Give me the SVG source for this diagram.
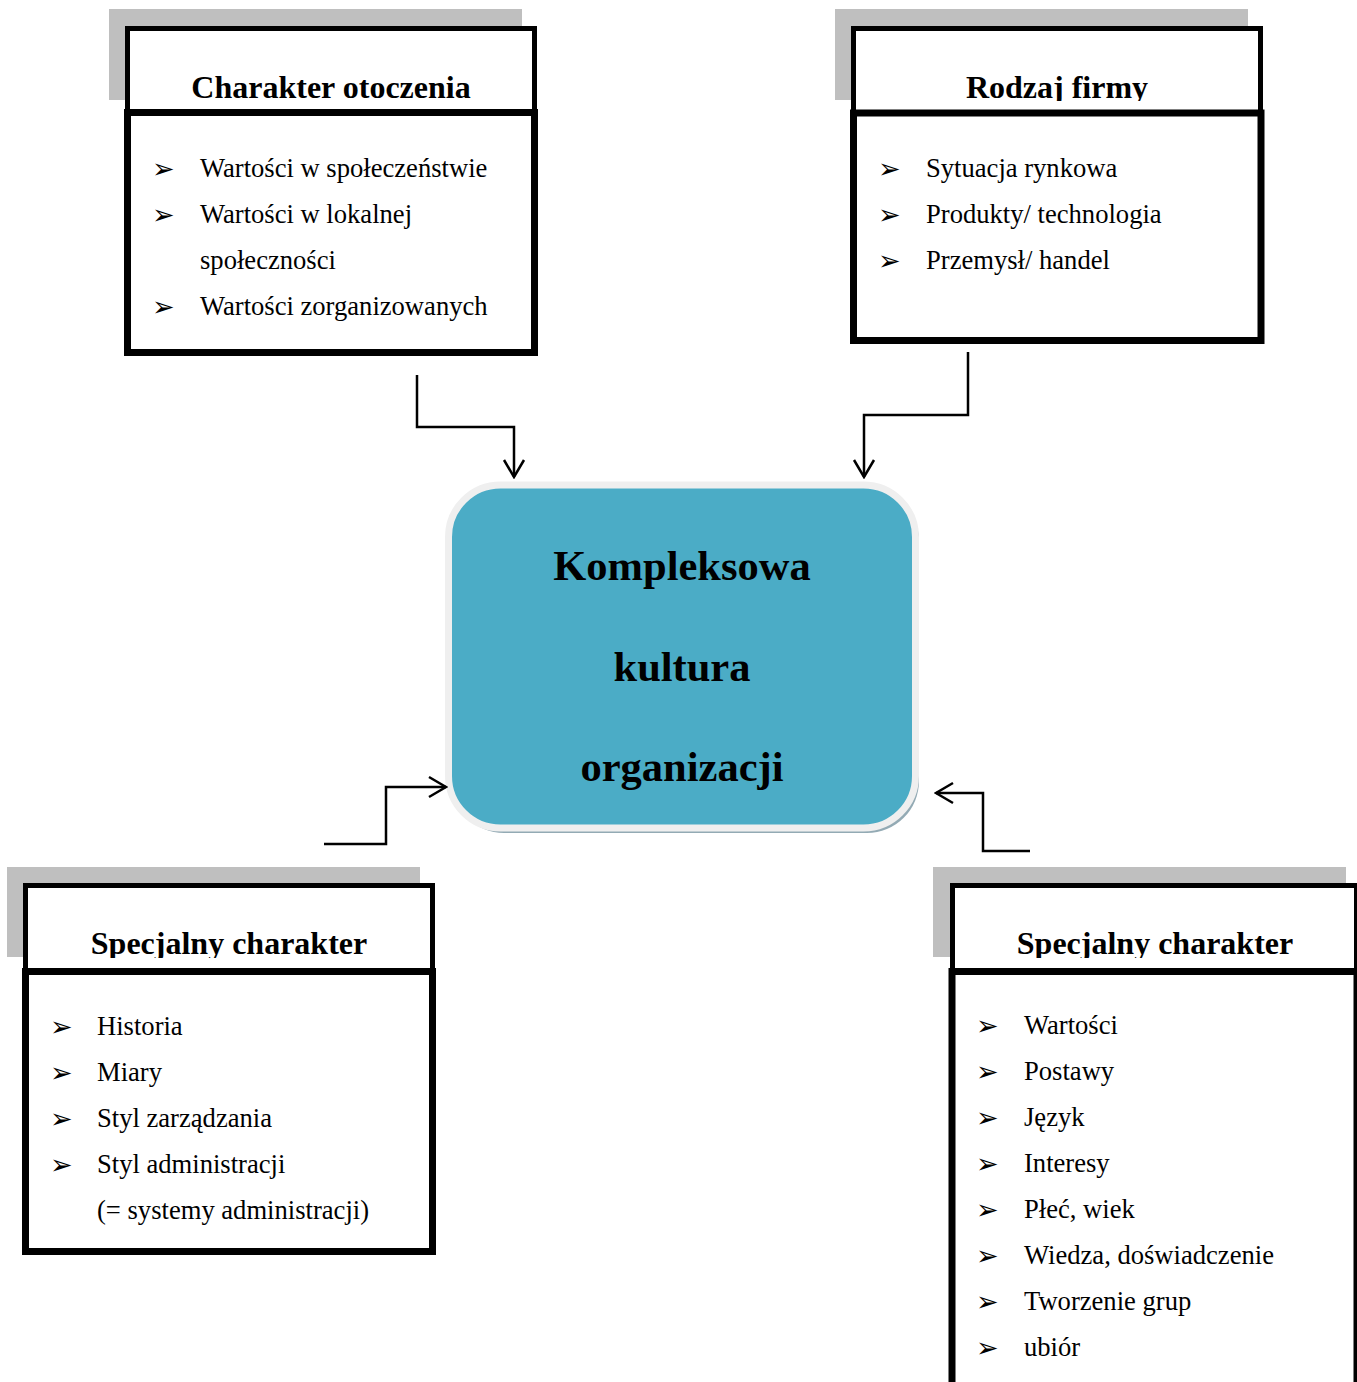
<svg xmlns="http://www.w3.org/2000/svg" width="1357" height="1382" viewBox="0 0 1357 1382">
<style>
.shadow{fill:#BFBFBF}
.hdr{fill:#fff;stroke:#000;stroke-width:5}
.body{fill:#fff;stroke:#000;stroke-width:7}
.title{font-family:"Liberation Serif","Times New Roman",serif;font-weight:bold;font-size:32px;text-anchor:middle;fill:#000}
.item{font-family:"Liberation Serif","Times New Roman",serif;font-size:26.6px;fill:#000}
.bul{font-family:"DejaVu Sans",sans-serif;font-size:27px;fill:#000}
.center{font-family:"Liberation Serif","Times New Roman",serif;font-weight:bold;font-size:42.5px;text-anchor:middle;fill:#000}
.conn{fill:none;stroke:#000;stroke-width:2.5;marker-end:url(#arrow)}
</style>
<defs>
<marker id="arrow" markerUnits="userSpaceOnUse" viewBox="-20 -12 22 24" refX="0" refY="0" markerWidth="22" markerHeight="24" orient="auto">
<path d="M-17,-10 L0,0 L-17,10" fill="none" stroke="#000" stroke-width="2.5"/>
</marker>
<clipPath id="clipTop"><rect x="0" y="30" width="1357" height="71"/></clipPath>
<clipPath id="clipBot"><rect x="0" y="888" width="1357" height="70"/></clipPath>
</defs>

<g id="node-charakter-otoczenia">
<rect class="shadow" x="109" y="9" width="413" height="91"/>
<rect class="hdr" x="127.5" y="28.5" width="407" height="85"/>
<rect class="body" x="127.5" y="112.5" width="407" height="240"/>
<text class="title" x="331" y="98" clip-path="url(#clipTop)">Charakter otoczenia</text>
<text class="bul" x="152" y="178">➢</text>
<text class="item" x="200" y="177">Wartości w społeczeństwie</text>
<text class="bul" x="152" y="224">➢</text>
<text class="item" x="200" y="223">Wartości w lokalnej</text>
<text class="item" x="200" y="269">społeczności</text>
<text class="bul" x="152" y="316">➢</text>
<text class="item" x="200" y="315">Wartości zorganizowanych</text>
</g>

<g id="node-rodzaj-firmy">
<rect class="shadow" x="835" y="9" width="413" height="91"/>
<rect class="hdr" x="853.5" y="28.5" width="407" height="85"/>
<rect class="body" x="853.5" y="113" width="407.5" height="227.5"/>
<text class="title" x="1057" y="98" clip-path="url(#clipTop)">Rodzaj firmy</text>
<text class="bul" x="878" y="178">➢</text>
<text class="item" x="926" y="177">Sytuacja rynkowa</text>
<text class="bul" x="878" y="224">➢</text>
<text class="item" x="926" y="223">Produkty/ technologia</text>
<text class="bul" x="878" y="270">➢</text>
<text class="item" x="926" y="269">Przemysł/ handel</text>
</g>

<g id="node-kultura">
<rect x="452" y="489" width="467" height="344" rx="52" ry="52" fill="#93AAB4"/>
<rect x="448.5" y="485" width="467" height="343" rx="52" ry="52" fill="#4BACC6" stroke="#EFEFEF" stroke-width="7"/>
<text class="center" x="682" y="580">Kompleksowa</text>
<text class="center" x="682" y="681">kultura</text>
<text class="center" x="682" y="781">organizacji</text>
</g>

<g id="node-specjalny-1">
<rect class="shadow" x="7" y="867" width="413" height="90"/>
<rect class="hdr" x="25.5" y="885.5" width="407" height="85"/>
<rect class="body" x="25.5" y="971.5" width="407" height="280"/>
<text class="title" x="229" y="954" clip-path="url(#clipBot)">Specjalny charakter</text>
<text class="bul" x="50" y="1036">➢</text>
<text class="item" x="97" y="1035">Historia</text>
<text class="bul" x="50" y="1082">➢</text>
<text class="item" x="97" y="1081">Miary</text>
<text class="bul" x="50" y="1128">➢</text>
<text class="item" x="97" y="1127">Styl zarządzania</text>
<text class="bul" x="50" y="1174">➢</text>
<text class="item" x="97" y="1173">Styl administracji</text>
<text class="item" x="97" y="1219">(= systemy administracji)</text>
</g>

<g id="node-specjalny-2">
<rect class="shadow" x="933" y="867" width="413" height="90"/>
<rect class="hdr" x="952.5" y="885.5" width="404" height="85"/>
<rect class="body" x="952" y="971.5" width="405" height="430"/>
<text class="title" x="1155" y="954" clip-path="url(#clipBot)">Specjalny charakter</text>
<text class="bul" x="976" y="1035">➢</text>
<text class="item" x="1024" y="1034">Wartości</text>
<text class="bul" x="976" y="1081">➢</text>
<text class="item" x="1024" y="1080">Postawy</text>
<text class="bul" x="976" y="1127">➢</text>
<text class="item" x="1024" y="1126">Język</text>
<text class="bul" x="976" y="1173">➢</text>
<text class="item" x="1024" y="1172">Interesy</text>
<text class="bul" x="976" y="1219">➢</text>
<text class="item" x="1024" y="1218">Płeć, wiek</text>
<text class="bul" x="976" y="1265">➢</text>
<text class="item" x="1024" y="1264">Wiedza, doświadczenie</text>
<text class="bul" x="976" y="1311">➢</text>
<text class="item" x="1024" y="1310">Tworzenie grup</text>
<text class="bul" x="976" y="1357">➢</text>
<text class="item" x="1024" y="1356">ubiór</text>
</g>

<g id="connectors">
<polyline class="conn" points="417,375 417,427 514,427 514,477"/>
<polyline class="conn" points="968,352 968,415 864,415 864,477"/>
<polyline class="conn" points="324,844 386,844 386,787 446,787"/>
<polyline class="conn" points="1030,851 983,851 983,793 936,793"/>
</g>
</svg>
